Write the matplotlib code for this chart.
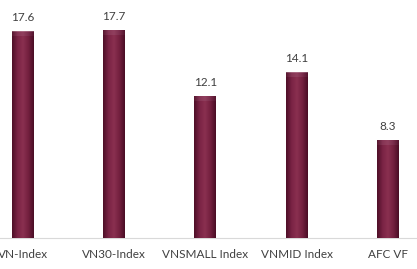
import numpy as np
import matplotlib.pyplot as plt
from matplotlib.colors import LinearSegmentedColormap

categories = ["VN-Index", "VN30-Index", "VNSMALL Index", "VNMID Index", "AFC VF"]
values = [17.6, 17.7, 12.1, 14.1, 8.3]

W, H = 417, 269
fig = plt.figure(figsize=(W / 100, H / 100), dpi=100)
# axes spills past the figure edges, like the cropped original
ax = fig.add_axes([-22.6 / W, 31 / H, 456 / W, 234 / H])

x = np.arange(len(categories))
bar_w = 0.24
bars = ax.bar(x, values, width=bar_w, color="#6b1a3a", zorder=2)

# cylinder-like shading on each bar
cmap = LinearSegmentedColormap.from_list(
    "cyl", ["#4e0f28", "#7a2344", "#8a3050", "#74203f", "#4a0d25"])
cap = LinearSegmentedColormap.from_list(
    "cap", ["#5a1a32", "#8a3a5a", "#944462", "#7e3050", "#561630"])
grad = np.linspace(0, 1, 64).reshape(1, -1)
for b in bars:
    x0, w, h = b.get_x(), b.get_width(), b.get_height()
    ax.imshow(grad, cmap=cmap, aspect="auto", extent=[x0, x0 + w, 0, h],
              zorder=3, interpolation="bilinear")
    # soft highlight at the top
    ax.imshow(grad, cmap=cap, aspect="auto", extent=[x0, x0 + w, h - 0.35, h],
              zorder=4, interpolation="bilinear", alpha=0.8)
    b.set_visible(False)

for xi, v in zip(x, values):
    ax.text(xi, v + 0.75, f"{v}", ha="center", va="bottom",
            fontsize=8.5, color="#404040", family="Lato")

ax.set_xlim(-0.5, len(categories) - 0.5)
ax.set_ylim(0, 20)
ax.set_xticks(x)
ax.set_xticklabels(categories, fontsize=8.5, color="#404040", family="Lato")
ax.tick_params(axis="x", length=0, pad=8)
ax.set_yticks([])
for s in ["left", "right", "top"]:
    ax.spines[s].set_visible(False)
ax.spines["bottom"].set_color("#d9d9d9")
ax.spines["bottom"].set_linewidth(0.8)

fig.savefig("out.png", dpi=100)
